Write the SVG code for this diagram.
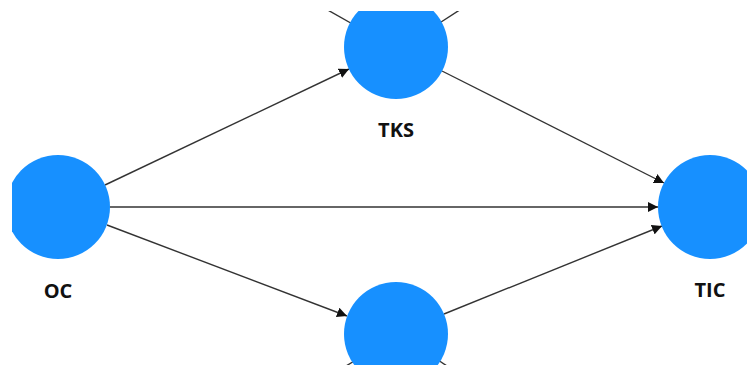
<svg xmlns="http://www.w3.org/2000/svg" width="747" height="365" viewBox="0 0 747 365">
<style>
.node{fill:#1790FF}
.lbl{font-family:"Open Sans","Liberation Sans",sans-serif;font-weight:bold;font-size:20px;fill:#111;text-anchor:middle}
.edge{stroke:#333;stroke-width:1.4;fill:none}
</style>
<defs>
<marker id="arr" viewBox="0 0 10 10" refX="10" refY="5" markerWidth="10" markerHeight="10" markerUnits="userSpaceOnUse" orient="auto">
<path d="M0,0 L10,5 L0,10 Z" fill="#111"/>
</marker>
<clipPath id="view"><rect x="12" y="11" width="735" height="354"/></clipPath>
</defs>
<rect width="747" height="365" fill="#fff"/>
<g clip-path="url(#view)">
<g id="connectors">
<line class="edge" x1="105" y1="185" x2="349" y2="69" marker-end="url(#arr)"/>
<line class="edge" x1="110" y1="207" x2="658" y2="207" marker-end="url(#arr)"/>
<line class="edge" x1="107" y1="225" x2="347" y2="316" marker-end="url(#arr)"/>
<line class="edge" x1="442" y1="71" x2="664" y2="183" marker-end="url(#arr)"/>
<line class="edge" x1="444" y1="314" x2="662" y2="226" marker-end="url(#arr)"/>
<line class="edge" x1="310" y1="0" x2="356" y2="26"/>
<line class="edge" x1="472" y1="2" x2="438" y2="24"/>
<line class="edge" x1="356" y1="360" x2="336" y2="372"/>
<line class="edge" x1="438" y1="360" x2="456" y2="372"/>
</g>
<g id="TKS"><circle class="node" cx="396" cy="47" r="52"/><text class="lbl" x="396" y="137">TKS</text></g>
<g id="OC"><circle class="node" cx="58" cy="207" r="52"/><text class="lbl" x="58" y="298">OC</text></g>
<g id="TIC"><circle class="node" cx="710" cy="207" r="52"/><text class="lbl" x="710" y="297">TIC</text></g>
<g id="bottom"><circle class="node" cx="396" cy="334" r="52"/></g>
</g>
</svg>
